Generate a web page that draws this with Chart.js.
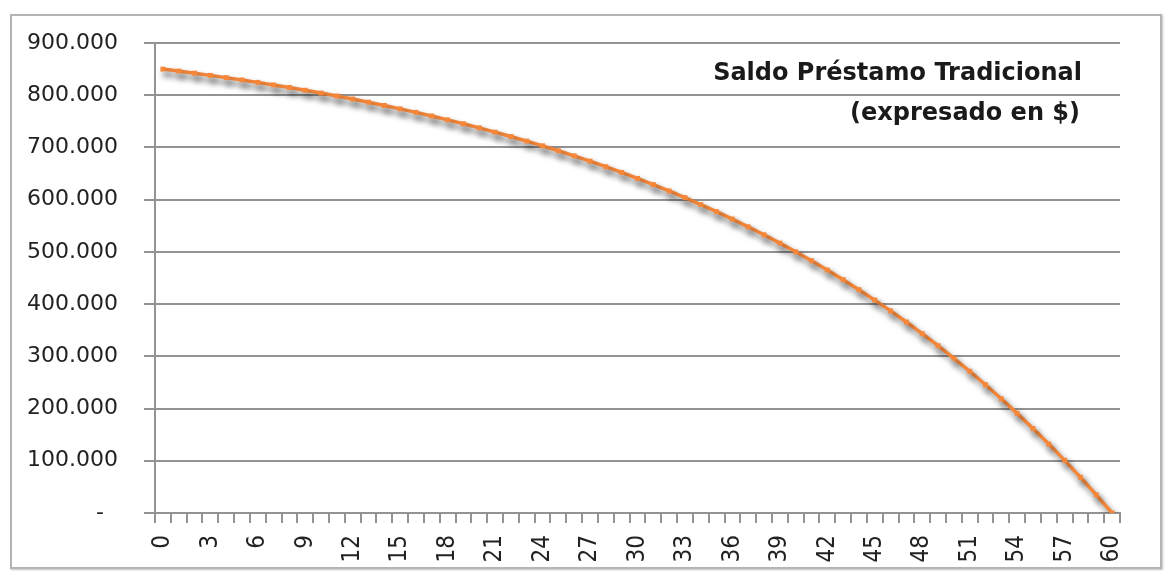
<!DOCTYPE html>
<html lang="es">
<head>
<meta charset="utf-8">
<title>Saldo Préstamo Tradicional</title>
<script src="https://cdn.jsdelivr.net/npm/chart.js@4/dist/chart.umd.min.js"></script>
<style>
    html, body { margin: 0; padding: 0; background: #fff; }
    .lienzo { position: relative; width: 1172px; height: 571px; overflow: hidden; }
    .marco {
        position: absolute; left: 10px; top: 14px; width: 1148px; height: 551px;
        border: 2px solid #b4b4b4; box-shadow: 1px 1px 2px rgba(0, 0, 0, 0.25);
    }
    #graficoSaldo { position: absolute; left: 0; top: 0; }
</style>
</head>
<body>
<div class="lienzo">
    <div class="marco"></div>
    <canvas id="graficoSaldo" width="1172" height="571"></canvas>
</div>
<script>
// periodos (meses) del préstamo
const periodos = [
    0, 1, 2, 3, 4, 5, 6, 7, 8, 9, 10, 11, 12, 13, 14, 15, 16, 17, 18, 19, 20,
    21, 22, 23, 24, 25, 26, 27, 28, 29, 30, 31, 32, 33, 34, 35, 36, 37, 38, 39, 40,
    41, 42, 43, 44, 45, 46, 47, 48, 49, 50, 51, 52, 53, 54, 55, 56, 57, 58, 59, 60,
];

// saldo, en $
const saldos = [
    850000, 846200, 842200, 838000, 833700, 829200, 824600, 819700, 814800, 809500,
    804100, 798500, 792700, 786700, 780400, 773900, 767200, 760200, 752800, 745300,
    737500, 729300, 720900, 712100, 703100, 693600, 683800, 673700, 663100, 652200,
    640700, 628900, 616700, 603900, 590700, 577000, 562800, 548000, 532700, 516800,
    500200, 483100, 465300, 446800, 427600, 407700, 387100, 365700, 343400, 320300,
    296300, 271400, 245500, 218700, 190800, 161800, 131900, 100800, 68400, 34800,
    0,
];

const marcasEjeY = [0, 100000, 200000, 300000, 400000, 500000, 600000, 700000, 800000, 900000];
const pasoEtiquetasX = 3;
const tituloLineas = ['Saldo Préstamo Tradicional', '(expresado en $)'];

const colorLinea = '#f5873a';
const colorGrilla = '#939393';
const colorTexto = '#222222';

function formatoMiles(valor) {
    if (valor === 0) return '-  ';
    return new Intl.NumberFormat('de-DE').format(valor);
}

// sombra bajo la serie, como en la planilla
const sombraSerie = {
    id: 'sombraSerie',
    beforeDatasetDraw(chart) {
        const ctx = chart.ctx;
        ctx.save();
        ctx.shadowColor = 'rgba(0, 0, 0, 0.55)';
        ctx.shadowBlur = 6;
        ctx.shadowOffsetX = 3;
        ctx.shadowOffsetY = 5;
    },
    afterDatasetDraw(chart) {
        chart.ctx.restore();
    },
};

// título dentro del área de trazado, arriba a la derecha
const tituloInterno = {
    id: 'tituloInterno',
    afterDraw(chart) {
        const ctx = chart.ctx;
        ctx.save();
        ctx.fillStyle = '#1a1a1a';
        ctx.font = 'bold 24px "DejaVu Sans"';
        ctx.textAlign = 'right';
        ctx.textBaseline = 'middle';
        ctx.fillText(tituloLineas[0], 1082, 74);
        ctx.fillText(tituloLineas[1], 1080, 114);
        ctx.restore();
    },
};

new Chart(document.getElementById('graficoSaldo'), {
    type: 'line',
    data: {
        labels: periodos,
        datasets: [{
            data: saldos,
            borderColor: colorLinea,
            backgroundColor: colorLinea,
            borderWidth: 3.5,
            tension: 0,
            pointStyle: 'rect',
            pointRadius: 3.5,
            pointBorderWidth: 0,
            pointBackgroundColor: colorLinea,
        }],
    },
    options: {
        responsive: false,
        animation: false,
        layout: { padding: { top: 43, right: 52, bottom: 0, left: 0 } },
        plugins: {
            legend: { display: false },
            tooltip: { enabled: false },
        },
        scales: {
            x: {
                offset: true,
                grid: {
                    offset: true,
                    drawOnChartArea: false,
                    drawTicks: true,
                    tickLength: 10,
                    color: colorGrilla,
                    lineWidth: 2,
                },
                border: { display: true, color: colorGrilla, width: 2 },
                ticks: {
                    autoSkip: false,
                    minRotation: 90,
                    maxRotation: 90,
                    padding: 12,
                    color: colorTexto,
                    font: { family: '"Liberation Sans Narrow", "DejaVu Sans Condensed", sans-serif', size: 24 },
                    callback: (valor, i) => (i % pasoEtiquetasX === 0 ? String(periodos[i]) : ''),
                },
                afterFit: escala => { escala.height = 58; },
            },
            y: {
                min: 0,
                max: 900000,
                afterBuildTicks: escala => {
                    escala.ticks = marcasEjeY.map(valor => ({ value: valor }));
                },
                grid: {
                    color: colorGrilla,
                    lineWidth: 2,
                    tickLength: 11,
                },
                border: { display: true, color: colorGrilla, width: 2 },
                ticks: {
                    padding: 26,
                    color: colorTexto,
                    font: { family: '"DejaVu Sans"', size: 22 },
                    callback: valor => formatoMiles(valor),
                },
                afterFit: escala => { escala.width = 155; },
            },
        },
    },
    plugins: [sombraSerie, tituloInterno],
});
</script>
</body>
</html>
